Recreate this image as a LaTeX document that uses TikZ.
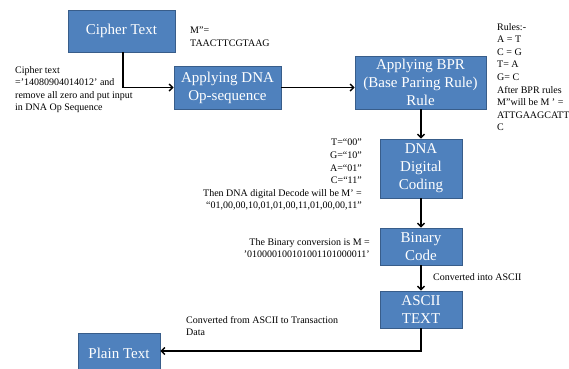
\documentclass[tikz,border=0pt]{standalone}
\usepackage{fontspec}
\setmainfont{Liberation Serif}
\usetikzlibrary{arrows.meta}
\definecolor{boxfill}{HTML}{4F81BD}
\definecolor{boxline}{HTML}{385D8A}
\begin{document}
\begin{tikzpicture}[x=1pt,y=-1pt,
  stepbox/.style={draw=boxline,line width=0.8pt,fill=boxfill,text=white,inner sep=0pt,
    font=\fontsize{15}{18}\selectfont,align=center},
  note/.style={inner sep=0pt,font=\fontsize{10}{12.6}\selectfont},
  conn/.style={line width=1.4pt,-{Straight Barb[length=3.5pt,width=7pt,line width=1.4pt]}}]
\useasboundingbox (0,0) rectangle (569,368);
\node[stepbox,minimum width=107pt,minimum height=42pt] (ct) at (121.5,31) {Cipher Text};
\node[stepbox,minimum width=107pt,minimum height=43pt] (dna) at (227.5,87.5) {Applying DNA\\Op-sequence};
\node[stepbox,minimum width=131pt,minimum height=53pt] (bpr) at (420.5,82.5) {Applying BPR\\(Base Paring Rule)\\Rule};
\node[stepbox,minimum width=82pt,minimum height=59pt] (ddc) at (421,168.5) {DNA\\Digital\\Coding};
\node[stepbox,minimum width=82pt,minimum height=37pt] (bin) at (421,246.5) {Binary\\Code};
\node[stepbox,minimum width=82pt,minimum height=37pt] (asc) at (421,309.5) {ASCII\\TEXT};
\node[stepbox,minimum width=82pt,minimum height=40pt] (pt) at (119,353) {Plain Text};
\coordinate (c1) at (123,87.5);
\coordinate (c2) at (421,351);
\draw[conn] (ct.south -| c1) -- (c1) -- (dna.west);
\draw[conn] (dna.east) -- (bpr.west |- dna.east);
\draw[conn] (bpr.south -| ddc.north) -- (ddc.north);
\draw[conn] (ddc.south) -- (bin.north);
\draw[conn] (bin.south) -- (asc.north);
\draw[conn] (asc.south) -- (c2) -- (pt.east |- c2);
\node[note,anchor=north west,align=left] (m1) at (190,27) {M''=\\TAACTTCGTAAG};
\node[note,anchor=north west,align=left] (ctx) at (15,66) {Cipher text\\='14080904014012' and\\remove all zero and put input\\in DNA Op Sequence};
\node[note,anchor=north west,align=left] (rules) at (497,23) {Rules:-\\A = T\\C = G\\T= A\\G= C\\After BPR rules\\M''will be M ' =\\ATTGAAGCATT\\C};
\node[note,anchor=north east,align=right] (codes) at (362,139) {T=“00”\\G=“10”\\A=“01”\\C=“11”\\Then DNA digital Decode will be M' =\\“01,00,00,10,01,01,00,11,01,00,00,11”};
\node[note,anchor=north east,align=right] (binx) at (370,238) {The Binary conversion is M =\\'010000100101001101000011'};
\node[note,anchor=north west,align=left] (cia) at (433,273) {Converted into ASCII};
\node[note,anchor=north west,align=left] (cfa) at (186,316) {Converted from ASCII to Transaction\\Data};
\end{tikzpicture}
\end{document}
